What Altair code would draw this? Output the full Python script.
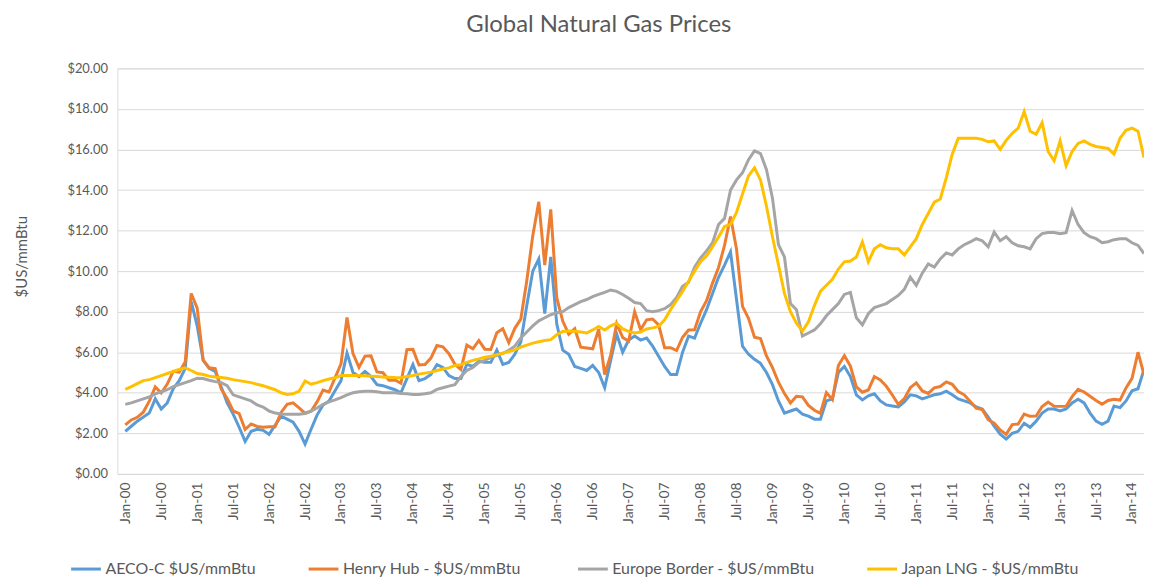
import altair as alt
import pandas as pd

# Monthly observations Jan-2000 .. Mar-2014
months = list(pd.date_range("2000-01-01", periods=171, freq="MS").strftime("%b-%y"))

aeco = [
    2.1, 2.35, 2.6, 2.8, 3.0, 3.7, 3.2, 3.5, 4.2, 4.6, 5.2, 8.5,
    7.3, 5.6, 5.2, 5.05, 4.3, 3.5, 2.95, 2.3, 1.6, 2.1, 2.2, 2.15,
    1.95, 2.4, 2.85, 2.7, 2.55, 2.1, 1.47, 2.2, 2.9, 3.4, 3.6, 4.1,
    4.6, 5.96, 5.0, 4.8, 5.05, 4.8, 4.4, 4.35, 4.25, 4.15, 4.0, 4.7,
    5.39, 4.6, 4.7, 4.9, 5.39, 5.25, 4.85, 4.7, 4.7, 5.4, 5.3, 5.55,
    5.5, 5.5, 6.1, 5.4, 5.5, 5.9, 6.5, 8.3, 10.0, 10.6, 7.9, 10.7,
    7.4, 6.1, 5.9, 5.3, 5.2, 5.1, 5.35, 5.0, 4.25, 5.6, 6.9, 6.0,
    6.6, 6.8, 6.6, 6.7, 6.3, 5.8, 5.3, 4.9, 4.9, 6.0, 6.8, 6.7,
    7.43, 8.1, 8.9, 9.7, 10.3, 10.95, 8.6, 6.3, 5.9, 5.65, 5.45, 5.0,
    4.4, 3.6, 3.0, 3.1, 3.2, 2.95, 2.85, 2.7, 2.7, 3.6, 3.7, 5.0,
    5.3, 4.8, 3.9, 3.65, 3.85, 3.95, 3.6, 3.4, 3.35, 3.3, 3.55, 3.9,
    3.85, 3.7, 3.8, 3.9, 3.95, 4.08, 3.9, 3.7, 3.6, 3.5, 3.3, 3.2,
    2.8, 2.35, 1.96, 1.72, 2.0, 2.1, 2.5, 2.3, 2.6, 3.0, 3.2, 3.2,
    3.1, 3.2, 3.5, 3.68, 3.5, 3.0, 2.6, 2.45, 2.6, 3.35, 3.27, 3.6,
    4.1, 4.2, 5.15,
]

henry = [
    2.42, 2.66, 2.79, 3.04, 3.59, 4.29, 3.99, 4.43, 5.06, 5.02, 5.52, 8.90,
    8.17, 5.61, 5.23, 5.19, 4.19, 3.72, 3.11, 2.97, 2.19, 2.46, 2.34, 2.30,
    2.32, 2.32, 3.03, 3.43, 3.50, 3.26, 2.99, 3.09, 3.55, 4.13, 4.04, 4.74,
    5.43, 7.71, 5.93, 5.26, 5.81, 5.82, 5.03, 4.99, 4.62, 4.63, 4.47, 6.13,
    6.14, 5.37, 5.39, 5.71, 6.33, 6.27, 5.93, 5.41, 5.15, 6.35, 6.17, 6.58,
    6.15, 6.14, 6.96, 7.16, 6.47, 7.18, 7.63, 9.53, 11.75, 13.42, 10.30, 13.05,
    8.69, 7.54, 6.89, 7.16, 6.25, 6.21, 6.17, 7.14, 4.90, 5.85, 7.41, 6.73,
    6.55, 8.00, 7.11, 7.60, 7.64, 7.35, 6.22, 6.22, 6.08, 6.74, 7.10, 7.11,
    7.99, 8.54, 9.41, 10.18, 11.27, 12.69, 11.09, 8.26, 7.67, 6.74, 6.68, 5.82,
    5.24, 4.52, 3.96, 3.50, 3.83, 3.80, 3.38, 3.14, 2.99, 4.01, 3.66, 5.35,
    5.83, 5.32, 4.29, 4.03, 4.14, 4.80, 4.63, 4.32, 3.89, 3.43, 3.71, 4.25,
    4.49, 4.09, 3.97, 4.24, 4.31, 4.54, 4.42, 4.06, 3.90, 3.57, 3.24, 3.17,
    2.67, 2.50, 2.17, 1.95, 2.43, 2.46, 2.95, 2.84, 2.85, 3.32, 3.54, 3.34,
    3.33, 3.33, 3.81, 4.17, 4.04, 3.83, 3.62, 3.43, 3.62, 3.68, 3.64, 4.24,
    4.71, 6.00, 4.90,
]

europe = [
    3.43, 3.5, 3.6, 3.7, 3.8, 3.95, 4.05, 4.15, 4.3, 4.4, 4.5, 4.6,
    4.72, 4.7, 4.62, 4.55, 4.5, 4.35, 3.9, 3.8, 3.7, 3.6, 3.4, 3.3,
    3.1, 3.0, 2.95, 2.94, 2.94, 2.94, 2.98, 3.1, 3.25, 3.43, 3.55, 3.65,
    3.76, 3.9, 4.0, 4.05, 4.08, 4.08, 4.05, 4.0, 4.0, 4.0, 3.97, 3.95,
    3.92, 3.92, 3.95, 4.0, 4.17, 4.25, 4.33, 4.4, 4.8, 5.1, 5.25, 5.5,
    5.6, 5.75, 5.85, 5.95, 6.1, 6.3, 6.7, 7.0, 7.3, 7.55, 7.7, 7.85,
    7.95, 8.0, 8.2, 8.35, 8.5, 8.6, 8.74, 8.85, 8.95, 9.07, 9.0, 8.85,
    8.66, 8.45, 8.4, 8.05, 8.0, 8.05, 8.15, 8.35, 8.7, 9.25, 9.45, 10.2,
    10.65, 11.0, 11.4, 12.3, 12.6, 14.0, 14.5, 14.85, 15.5, 15.93, 15.8, 15.0,
    13.6, 11.3, 10.7, 8.4, 8.1, 6.8, 6.95, 7.1, 7.4, 7.8, 8.1, 8.4,
    8.85, 8.95, 7.7, 7.35, 7.9, 8.2, 8.3, 8.4, 8.6, 8.8, 9.1, 9.7,
    9.3, 9.9, 10.35, 10.2, 10.6, 10.9, 10.8, 11.1, 11.3, 11.44, 11.6, 11.5,
    11.2, 11.93, 11.5, 11.7, 11.4, 11.25, 11.2, 11.1, 11.6, 11.85, 11.9, 11.9,
    11.85, 11.9, 12.99, 12.3, 11.9, 11.7, 11.6, 11.4, 11.45, 11.55, 11.6, 11.6,
    11.4, 11.27, 10.87,
]

japan = [
    4.17, 4.3, 4.45, 4.6, 4.65, 4.75, 4.85, 4.95, 5.05, 5.15, 5.23, 5.1,
    4.95, 4.9, 4.82, 4.78, 4.75, 4.72, 4.65, 4.6, 4.55, 4.5, 4.42, 4.35,
    4.25, 4.15, 4.0, 3.92, 3.95, 4.08, 4.58, 4.42, 4.5, 4.6, 4.68, 4.74,
    4.85, 4.85, 4.85, 4.85, 4.84, 4.82, 4.8, 4.78, 4.77, 4.75, 4.74, 4.8,
    4.85, 4.92, 4.97, 5.02, 5.1, 5.17, 5.23, 5.35, 5.39, 5.5, 5.6, 5.67,
    5.75, 5.8, 5.88, 5.95, 6.03, 6.12, 6.25, 6.35, 6.45, 6.52, 6.58, 6.62,
    6.86, 7.03, 7.05, 7.03, 7.0, 6.95, 7.1, 7.27, 7.1, 7.3, 7.43, 7.15,
    7.03, 6.95, 7.0, 7.15, 7.2, 7.27, 7.6, 8.1, 8.55, 9.0, 9.5, 10.0,
    10.46, 10.75, 11.2, 11.68, 12.2, 12.3, 12.9, 13.8, 14.7, 15.1, 14.5, 13.2,
    11.7, 10.3, 8.9, 8.0, 7.43, 7.05, 7.5, 8.3, 9.0, 9.3, 9.6, 10.1,
    10.46, 10.5, 10.7, 11.44, 10.46, 11.1, 11.3, 11.15, 11.1, 11.1, 10.8, 11.2,
    11.6, 12.3, 12.85, 13.4, 13.56, 14.6, 15.77, 16.55, 16.55, 16.55, 16.55, 16.5,
    16.38, 16.42, 16.01, 16.45, 16.8, 17.05, 17.86, 16.9, 16.75, 17.32, 15.9, 15.44,
    16.42, 15.2, 15.9, 16.3, 16.42, 16.25, 16.15, 16.1, 16.05, 15.77, 16.55, 16.95,
    17.05, 16.9, 15.6,
]

series_names = [
    "AECO-C $US/mmBtu",
    "Henry Hub  - $US/mmBtu",
    "Europe Border - $US/mmBtu",
    "Japan LNG - $US/mmBtu",
]
series_colors = ["#5B9BD5", "#ED7D31", "#A5A5A5", "#FFC000"]
y_ticks = [0, 2, 4, 6, 8, 10, 12, 14, 16, 18, 20]
x_tick_idx = list(range(0, 169, 6))

rows = []
for order, (name, vals) in enumerate(zip(series_names, [aeco, henry, europe, japan])):
    for i, v in enumerate(vals):
        rows.append({"idx": i, "month": months[i], "series": name, "order": order, "price": v})
df = pd.DataFrame(rows)

FONT = "Lato"
TXT = "#595959"

label_expr = (
    "(datum.value % 12 == 0 ? 'Jan-' : 'Jul-') + "
    "(floor(datum.value / 12) < 10 ? '0' : '') + floor(datum.value / 12)"
)

lines = alt.Chart(df).mark_line(strokeWidth=3, clip=True).encode(
    x=alt.X(
        "idx:Q",
        scale=alt.Scale(domain=[-1.33, 170], nice=False, zero=False),
        axis=alt.Axis(
            values=x_tick_idx,
            labelExpr=label_expr,
            labelAngle=270,
            labelFontSize=14,
            labelColor=TXT,
            labelFont=FONT,
            labelPadding=8,
            tickSize=0,
            domain=False,
            grid=False,
            title=None,
            labelOverlap=False,
        ),
    ),
    y=alt.Y(
        "price:Q",
        scale=alt.Scale(domain=[0, 20], nice=False),
        axis=alt.Axis(
            values=y_ticks,
            format="$,.2f",
            labelFontSize=13,
            labelColor=TXT,
            labelFont=FONT,
            labelPadding=10,
            tickSize=0,
            domain=False,
            grid=True,
            gridColor="#D9D9D9",
            gridWidth=1,
            title="$US/mmBtu",
            titleFont=FONT,
            titleFontSize=15,
            titleFontWeight="normal",
            titleColor=TXT,
            titleX=-96,
            titleY=189,
            titleAngle=270,
            titleAlign="center",
            titleBaseline="middle",
        ),
    ),
    color=alt.Color(
        "series:N",
        scale=alt.Scale(domain=series_names, range=series_colors),
        sort=series_names,
        legend=alt.Legend(
            title=None,
            orient="none",
            legendX=-48,
            legendY=487,
            direction="horizontal",
            columns=4,
            gridAlign="each",
            columnPadding=46,
            symbolType="stroke",
            symbolSize=900,
            symbolStrokeWidth=3,
            labelFont=FONT,
            labelFontSize=16,
            labelColor=TXT,
            labelOffset=3,
            labelLimit=400,
        ),
    ),
    order=alt.Order("order:Q"),
    detail="series:N",
)

chart = lines.properties(
    width=1033,
    height=408,
    title=alt.TitleParams(
        "Global Natural Gas Prices",
        font=FONT,
        fontSize=24,
        fontWeight="normal",
        color=TXT,
        anchor="middle",
        dx=-32,
        offset=26,
    ),
    autosize=alt.AutoSizeParams(type="none"),
    padding={"left": 110, "top": 59, "right": 0, "bottom": 103},
).configure_view(stroke=None).configure(background="white")

chart.save("out.html", embed_options={"renderer": "svg", "actions": False})
